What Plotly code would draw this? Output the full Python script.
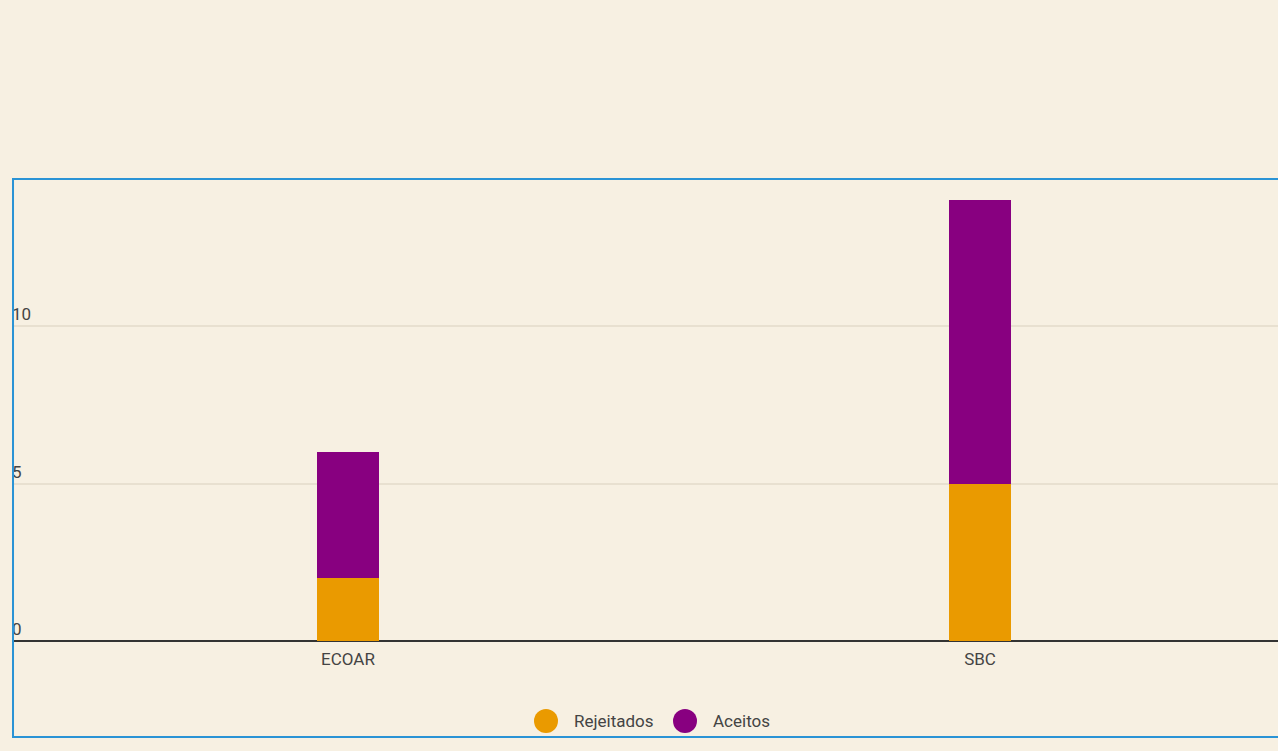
import plotly.graph_objects as go

categories = ["ECOAR", "SBC"]
series_names = ["Rejeitados", "Aceitos"]
rejeitados = [2, 5]
aceitos = [4, 9]
y_ticks = [0, 5, 10]

ORANGE = "#ea9a00"
PURPLE = "#880080"
BG = "#f7f0e2"
TXT = "#444444"
FONT = "Roboto"

fig = go.Figure()
fig.add_trace(go.Bar(x=categories, y=rejeitados, name=series_names[0], marker_color=ORANGE,
                     marker_line_width=0, width=0.098, showlegend=False))
fig.add_trace(go.Bar(x=categories, y=aceitos, name=series_names[1], marker_color=PURPLE,
                     marker_line_width=0, width=0.098, showlegend=False))

# custom legend: circles + labels (paper coordinates)
legend_items = [(series_names[0], ORANGE, 0.4218, 0.4423),
                (series_names[1], PURPLE, 0.5316, 0.5521)]
shapes = [dict(type="rect", xref="paper", yref="paper", x0=0.0008, x1=1.01, y0=-0.2078, y1=1,
               line=dict(color="#2a93d5", width=2), fillcolor="rgba(0,0,0,0)", layer="above")]
annotations = []
for name, col, cx, tx in legend_items:
    shapes.append(dict(type="circle", xref="paper", yref="paper", xsizemode="pixel", ysizemode="pixel",
                       xanchor=cx, yanchor=-0.1732, x0=-12, x1=12, y0=-12, y1=12,
                       fillcolor=col, line=dict(width=0)))
    annotations.append(dict(text=name, xref="paper", yref="paper", x=tx, y=-0.1732,
                            xanchor="left", yanchor="middle", showarrow=False,
                            font=dict(family=FONT, size=17, color=TXT)))

fig.update_layout(
    width=1278, height=751,
    margin=dict(l=12, r=0, t=179, b=110),
    paper_bgcolor=BG, plot_bgcolor=BG,
    barmode="stack",
    font=dict(family=FONT, size=17, color=TXT),
    showlegend=False,
    xaxis=dict(range=[-0.5316, 1.4715], showgrid=False, zeroline=False, showline=False,
               ticks="", ticklabelstandoff=6, tickfont=dict(size=17, color=TXT), fixedrange=True),
    yaxis=dict(range=[0, 14.67], tickvals=y_ticks, ticktext=[str(v) for v in y_ticks],
               showgrid=True, gridcolor="#e8e0d0", gridwidth=2,
               zeroline=True, zerolinecolor="#333333", zerolinewidth=2,
               ticklabelposition="inside top", ticklabelstandoff=-3, showline=False, ticks="",
               tickfont=dict(size=17, color=TXT)),
    shapes=shapes,
    annotations=annotations,
)

fig.write_html("out.html")
